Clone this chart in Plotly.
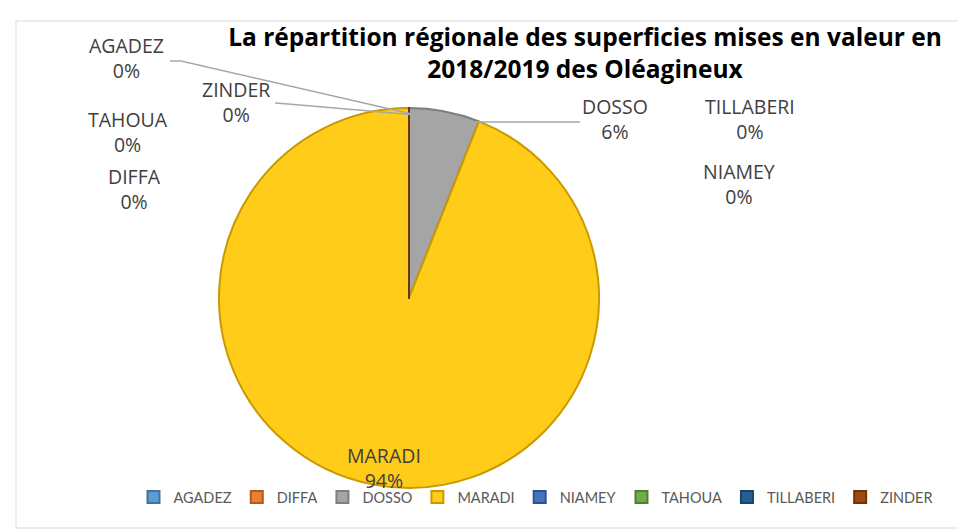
import plotly.graph_objects as go

regions = ["AGADEZ", "DIFFA", "DOSSO", "MARADI", "NIAMEY", "TAHOUA", "TILLABERI", "ZINDER"]
values = [0, 0, 6, 94, 0, 0, 0, 0]
colors = ["#5B9BD5", "#ED7D31", "#A5A5A5", "#FFCC1A", "#4472C4", "#70AD47", "#255E91", "#9E480E"]
line_colors = ["#41719C", "#AE5A21", "#7F7F7F", "#C99A00", "#2F528F", "#507E32", "#1A4368", "#70330A"]

W, H = 966, 530
total = sum(values)
pcts = [round(v / total * 100) for v in values]

def px(x, y):
    return x / W, 1 - y / H

# label centers (pixel) for each region's data label
label_pos = {
    "AGADEZ": (118, 50),
    "DIFFA": (127, 181),
    "DOSSO": (607, 111),
    "MARADI": (376, 460),
    "NIAMEY": (731, 176),
    "TAHOUA": (120, 124),
    "TILLABERI": (742, 111),
    "ZINDER": (228, 94),
}

fig = go.Figure()
fig.add_trace(go.Pie(
    labels=regions,
    values=values,
    sort=False,
    direction="clockwise",
    rotation=0,
    textinfo="none",
    marker=dict(colors=colors, line=dict(color=line_colors, width=2)),
    domain=dict(x=[(401 - 190) / W, (401 + 190) / W], y=[1 - 480 / H, 1 - 100 / H]),
    showlegend=True,
))

annotations = []
for r, p in zip(regions, pcts):
    lx, ly = label_pos[r]
    x, y = px(lx, ly)
    annotations.append(dict(
        x=x, y=y, xref="paper", yref="paper", showarrow=False,
        xanchor="center", yanchor="middle",
        text=f"{r}<br>{p}%", align="center",
        font=dict(family="Open Sans, sans-serif", size=19.5, color="#404040"),
    ))

shapes = []
# chart border
shapes.append(dict(type="rect", xref="paper", yref="paper",
                   x0=8 / W, x1=956 / W, y0=1 - 520 / H, y1=1 - 13 / H,
                   line=dict(color="#D9D9D9", width=1), fillcolor="rgba(0,0,0,0)", layer="below"))
# leader lines
leaders = [
    [(162, 53), (173, 53), (408, 107)],
    [(267, 95), (280, 96), (408, 107)],
    [(440, 114), (572, 114)],
]
for pts in leaders:
    for (xa, ya), (xb, yb) in zip(pts[:-1], pts[1:]):
        x0, y0 = px(xa, ya)
        x1, y1 = px(xb, yb)
        shapes.append(dict(type="line", xref="paper", yref="paper",
                           x0=x0, y0=y0, x1=x1, y1=y1,
                           line=dict(color="#A6A6A6", width=1.5)))

fig.update_layout(
    width=W, height=H,
    margin=dict(l=0, r=0, t=0, b=0),
    paper_bgcolor="white",
    plot_bgcolor="white",
    title=dict(
        text="<b>La répartition régionale des superficies mises en valeur en<br>2018/2019 des Oléagineux</b>",
        x=577 / W, xanchor="center", y=1 - 38 / H, yanchor="top",
        font=dict(family="Open Sans, sans-serif", size=24.5, color="#000000"),
    ),
    legend=dict(
        orientation="h", x=528 / W, xanchor="center", y=1 - 505 / H, yanchor="bottom",
        font=dict(family="Lato, Open Sans, sans-serif", size=14.5, color="#595959"),
        itemwidth=30, tracegroupgap=0, bgcolor="rgba(0,0,0,0)",
    ),
    annotations=annotations,
    shapes=shapes,
)

fig.write_html("out.html")
